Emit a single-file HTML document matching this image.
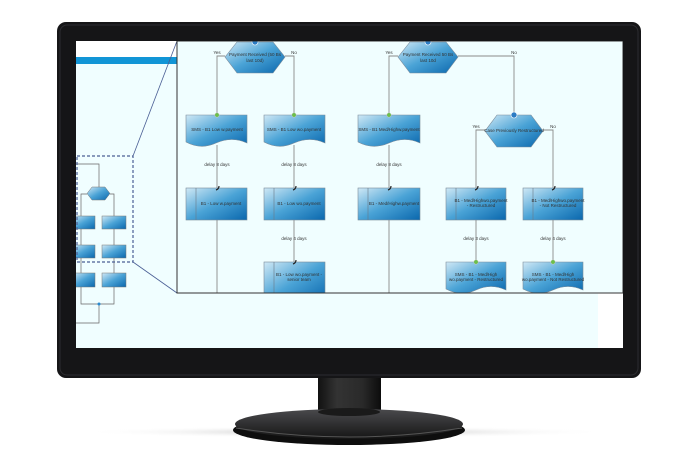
<!DOCTYPE html>
<html><head><meta charset="utf-8"><style>
html,body{margin:0;padding:0;background:#fff;width:700px;height:467px;overflow:hidden}
text{font-family:"Liberation Sans",sans-serif;fill:#333}
</style></head><body>
<svg width="700" height="467" viewBox="0 0 700 467" xmlns="http://www.w3.org/2000/svg">
<defs>
<linearGradient id="g" x1="0" y1="0" x2="1" y2="1"><stop offset="0" stop-color="#cfe8f5"/><stop offset="0.5" stop-color="#4aa3d6"/><stop offset="1" stop-color="#0a67ad"/></linearGradient>
<radialGradient id="sh" cx="0.5" cy="0.5" r="0.5"><stop offset="0" stop-color="#bbb"/><stop offset="1" stop-color="#fff" stop-opacity="0"/></radialGradient>
<linearGradient id="base" x1="0" y1="0" x2="0" y2="1"><stop offset="0" stop-color="#4a4a4d"/><stop offset="1" stop-color="#151515"/></linearGradient>
<linearGradient id="neck" x1="0" y1="0" x2="1" y2="0"><stop offset="0" stop-color="#111"/><stop offset="0.3" stop-color="#333"/><stop offset="0.7" stop-color="#2a2a2a"/><stop offset="1" stop-color="#0c0c0c"/></linearGradient>
<clipPath id="scr"><rect x="76" y="41" width="547" height="307"/></clipPath>
<clipPath id="pan"><rect x="177" y="41" width="446" height="252"/></clipPath>
</defs>
<ellipse cx="345" cy="432" rx="265" ry="6" fill="url(#sh)"/>
<rect x="318" y="370" width="63" height="43" fill="url(#neck)"/>
<ellipse cx="349" cy="430" rx="116" ry="15" fill="#0e0e0e"/>
<ellipse cx="349" cy="424" rx="114" ry="15" fill="url(#base)"/>
<path d="M236 428 Q349 446 462 428" stroke="#555" stroke-width="1" fill="none"/>
<ellipse cx="349" cy="412" rx="31" ry="4" fill="#1a1a1a"/>
<rect x="57" y="22" width="584" height="356" rx="9" fill="#151517"/>
<rect x="60" y="25" width="578" height="350" rx="7" fill="none" stroke="#2c2c30" stroke-width="1"/>
<rect x="76" y="41" width="547" height="307" fill="#f0feff"/>
<g clip-path="url(#scr)">
<rect x="598" y="293" width="25" height="55" fill="#fff"/>
<rect x="76" y="41" width="101" height="16" fill="#fff"/>
<rect x="76" y="57" width="101" height="7" fill="#1195d6"/>
<g stroke="#666" stroke-width="0.7" fill="none">
<path d="M76 164 H99 V187"/>
<path d="M87 194 H81 V216 M110 194 H114 V216"/>
<path d="M81 229 V245 M114 229 V245 M81 258 V273 M114 258 V273 M81 287 V304 H114 V287 M99 304 V323 H76"/>
</g>
<polygon points="87,193.5 92,187 105,187 110,193.5 105,200 92,200" fill="url(#g)" stroke="#777" stroke-width="0.5"/>
<g fill="url(#g)" stroke="#777" stroke-width="0.5">
<rect x="72" y="216" width="23" height="13"/><rect x="102" y="216" width="24" height="13"/>
<rect x="72" y="245" width="23" height="13"/><rect x="102" y="245" width="24" height="13"/>
<rect x="72" y="273" width="23" height="14"/><rect x="102" y="273" width="24" height="14"/>
</g>
<circle cx="99" cy="304" r="1.5" fill="#2a8ad0"/>
<rect x="77" y="156" width="56" height="106" fill="none" stroke="#4a5f95" stroke-width="1.2" stroke-dasharray="3,2"/>
<line x1="133" y1="156" x2="177" y2="41" stroke="#4a5f95" stroke-width="0.8"/>
<line x1="133" y1="262" x2="177" y2="293" stroke="#4a5f95" stroke-width="0.8"/>
<g clip-path="url(#pan)">
<rect x="177" y="41" width="446" height="252" fill="#f0feff"/>
<g stroke="#8a8a8a" stroke-width="0.9" fill="none">
<path d="M225 56 H217 V115 M285 56 H294 V115"/>
<path d="M217 145 V188 M294 145 V188 M217 220 V300 M294 220 V262"/>
<path d="M398 56 H389 V115 M458 56 H514 V115 M389 145 V188 M389 220 V300"/>
<path d="M485 130 H476 V188 M543 130 H553 V188 M476 220 V262 M553 220 V262"/>
</g>
<g font-size="4.5" text-anchor="middle">
<text x="217" y="54">Yes</text><text x="294" y="54">No</text>
<text x="389" y="54">Yes</text><text x="514" y="54">No</text>
<text x="476" y="128">Yes</text><text x="553" y="128">No</text>
<text x="217" y="166">delay 8 days</text><text x="294" y="166">delay 8 days</text><text x="389" y="166">delay 8 days</text>
<text x="294" y="240">delay 4 days</text><text x="476" y="240">delay 3 days</text><text x="553" y="240">delay 4 days</text>
</g>
<g fill="url(#g)" stroke="#7a8a99" stroke-width="0.6">
<polygon points="225,57 237,42 273,42 285,57 273,73 237,73"/>
<polygon points="398,57 410,42 446,42 458,57 446,73 410,73"/>
<polygon points="485,131 497,115 531,115 543,131 531,147 497,147"/>
</g>
<g fill="#2b7cc4" stroke="#fff" stroke-width="0.6"><circle cx="255" cy="42" r="3"/><circle cx="428" cy="42" r="3"/><circle cx="514" cy="115" r="3"/></g>
<g font-size="4.5" text-anchor="middle">
<text x="255" y="56">Payment Received (50 Bs</text><text x="255" y="62">last 10d)</text>
<text x="428" y="56">Payment Received 50 Bs</text><text x="428" y="62">last 10d</text>
<text x="514" y="132">Case Previously Restructured</text>
</g>
<g fill="url(#g)" stroke="#7a8a99" stroke-width="0.6">
<path d="M186 115 H247 V143 Q232 136 216 143 Q201 150 186 142 Z"/>
<path d="M264 115 H325 V143 Q310 136 294 143 Q279 150 264 142 Z"/>
<path d="M358 115 H420 V143 Q405 136 389 143 Q373 150 358 142 Z"/>
<path d="M446 262 H506 V290 Q491 283 476 290 Q461 297 446 289 Z"/>
<path d="M523 262 H583 V290 Q568 283 553 290 Q538 297 523 289 Z"/>
</g>
<g fill="url(#g)" stroke="#7a8a99" stroke-width="0.6">
<rect x="186" y="188" width="61" height="32"/><rect x="264" y="188" width="61" height="32"/>
<rect x="358" y="188" width="62" height="32"/><rect x="446" y="188" width="60" height="32"/>
<rect x="523" y="188" width="60" height="32"/><rect x="264" y="262" width="61" height="40"/>
</g>
<g stroke="#6a7a88" stroke-width="0.6">
<line x1="196" y1="188" x2="196" y2="220"/><line x1="274" y1="188" x2="274" y2="220"/>
<line x1="368" y1="188" x2="368" y2="220"/><line x1="456" y1="188" x2="456" y2="220"/>
<line x1="533" y1="188" x2="533" y2="220"/><line x1="274" y1="262" x2="274" y2="302"/>
</g>
<g font-size="4.5" text-anchor="middle">
<text x="217" y="131">SMS - B1 Low w.payment</text>
<text x="294" y="131">SMS - B1 Low wo.payment</text>
<text x="389" y="131">SMS - B1  Med/Highw.payment</text>
<text x="476" y="276">SMS - B1 - Med/High</text><text x="476" y="281">wo.payment - Restructured</text>
<text x="553" y="276">SMS - B1 - Med/High</text><text x="553" y="281">wo.payment - Not Restructured</text>
<text x="221" y="205">B1 - Low w.payment</text>
<text x="299" y="205">B1 - Low wo.payment</text>
<text x="394" y="205">B1 - Med/Highw.payment</text>
<text x="481" y="202">B1 - Med/Highwo.payment</text><text x="481" y="207">- Restructured</text>
<text x="558" y="202">B1 - Med/Highwo.payment</text><text x="558" y="207">- Not Restructured</text>
<text x="299" y="276">B1 - Low wo.payment -</text><text x="299" y="281">senior team</text>
</g>
<g fill="#6bbf4a" stroke="#ccc" stroke-width="0.5">
<circle cx="217" cy="115" r="2.2"/><circle cx="294" cy="115" r="2.2"/><circle cx="389" cy="115" r="2.2"/>
<circle cx="476" cy="262" r="2.2"/><circle cx="553" cy="262" r="2.2"/>
</g>
<g stroke="#222" stroke-width="1.2" fill="none">
<path d="M219 186 q0 3 -3 4"/><path d="M296 186 q0 3 -3 4"/><path d="M391 186 q0 3 -3 4"/>
<path d="M478 186 q0 3 -3 4"/><path d="M555 186 q0 3 -3 4"/><path d="M296 260 q0 3 -3 4"/>
</g>
</g>
<rect x="177" y="41" width="446" height="252" fill="none" stroke="#333" stroke-width="1"/>
</g>
</svg>
</body></html>
